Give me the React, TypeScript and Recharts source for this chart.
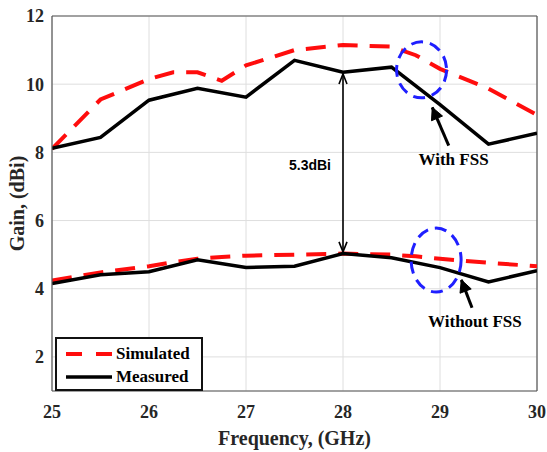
import React from 'react';
import {
  LineChart, Line, XAxis, YAxis, CartesianGrid, ReferenceLine, ReferenceDot,
} from 'recharts';

// frequency points (GHz)
const freqSim = [25, 25.5, 26, 26.25, 26.5, 26.75, 27, 27.5, 28, 28.5, 28.75, 29, 29.5, 30];
const freqMeas = [25, 25.5, 26, 26.5, 27, 27.5, 28, 28.5, 29, 29.5, 30];

// gain (dBi)
const simWithFss = [8.1, 9.55, 10.15, 10.35, 10.35, 10.1, 10.55, 11.0, 11.15, 11.1, 10.85, 10.45, 9.87, 9.1];
const measWithFss = [8.12, 8.44, 9.53, 9.88, 9.62, 10.7, 10.35, 10.5, 9.4, 8.24, 8.56];
const simWithoutFss = [4.24, 4.48, 4.66, 4.78, 4.88, 4.93, 4.97, 5.0, 5.03, 5.0, 4.95, 4.88, 4.76, 4.66];
const measWithoutFss = [4.15, 4.41, 4.5, 4.85, 4.62, 4.66, 5.03, 4.91, 4.62, 4.2, 4.53];

const xTicks = [25, 26, 27, 28, 29, 30];
const yTicks = [2, 4, 6, 8, 10, 12];

const toPoints = (xs: number[], ys: number[]) => ys.map((g, i) => ({ f: xs[i], g }));

const serif = '"Liberation Serif", "Times New Roman", serif';
const RED = '#ff0d0d';
const BLUE = '#1f1fff';

const arrowHead = (x: number, y: number, fromX: number, fromY: number, size = 11, half = 4.5) => {
  const ang = Math.atan2(y - fromY, x - fromX);
  const bx = x - size * Math.cos(ang);
  const by = y - size * Math.sin(ang);
  const px = -Math.sin(ang) * half;
  const py = Math.cos(ang) * half;
  return `M${bx + px},${by + py} L${x},${y} L${bx - px},${by - py}`;
};

const DoubleArrow = (p: any) => (
  <g>
    <line x1={p.x1} y1={p.y1} x2={p.x2} y2={p.y2} stroke="#000" strokeWidth={1.6} />
    <path d={arrowHead(p.x1, p.y1, p.x2, p.y2, 10, 4)} fill="none" stroke="#000" strokeWidth={1.6} />
    <path d={arrowHead(p.x2, p.y2, p.x1, p.y1, 10, 4)} fill="none" stroke="#000" strokeWidth={1.6} />
  </g>
);

// line from x1,y1 (tail) to x2,y2 (head)
const Pointer = (p: any) => (
  <g>
    <line x1={p.x1} y1={p.y1} x2={p.x2} y2={p.y2} stroke="#000" strokeWidth={3} />
    <path d={arrowHead(p.x2, p.y2, p.x1, p.y1, 12, 6) + ' Z'} fill="#000" stroke="#000" strokeWidth={1} />
  </g>
);

const ellipse = (rx: number, ry: number) => (p: any) => (
  <ellipse cx={p.cx} cy={p.cy} rx={rx} ry={ry} fill="none" stroke={BLUE} strokeWidth={3} strokeDasharray="12 7" />
);

const textAt = (value: string, size: number, family: string, weight: number | string) => (p: any) => (
  <text x={p.cx} y={p.cy} textAnchor="middle" dominantBaseline="central" fontSize={size}
    fontFamily={family} fontWeight={weight} fill="#000">{value}</text>
);

export default function App() {
  return (
    <div style={{ position: 'absolute', left: 0, top: 0, width: 547, height: 452, background: '#fff' }}>
      <LineChart width={547} height={452} margin={{ top: 16, right: 10, bottom: 0, left: 0 }}>
        <CartesianGrid stroke="#dedede" strokeWidth={1} />
        <XAxis
          dataKey="f" type="number" domain={[25, 30]} ticks={xTicks} allowDataOverflow
          height={61} stroke="#555" strokeWidth={1.2} tickLine={false} tickMargin={8}
          tick={{ fill: '#262626', fontSize: 18, fontFamily: serif, fontWeight: 'bold' }}
          label={{
            content: ({ viewBox }: any) => (
              <text x={viewBox.x + viewBox.width / 2} y={445} textAnchor="middle"
                fontSize={20} fontFamily={serif} fontWeight="bold" fill="#262626">Frequency, (GHz)</text>
            ),
          }}
        />
        <YAxis
          type="number" domain={[1, 12]} ticks={yTicks} allowDataOverflow
          width={52} stroke="#555" strokeWidth={1.2} tickLine={false} tickMargin={2}
          tick={{ fill: '#262626', fontSize: 18, fontFamily: serif, fontWeight: 'bold' }}
          label={{
            content: ({ viewBox }: any) => {
              const cy = viewBox.y + viewBox.height / 2;
              return (
                <text x={24} y={cy} transform={`rotate(-90 24 ${cy})`} textAnchor="middle"
                  fontSize={20} fontFamily={serif} fontWeight="bold" fill="#262626">Gain, (dBi)</text>
              );
            },
          }}
        />
        <ReferenceLine y={12} stroke="#555" strokeWidth={1.2} />
        <ReferenceLine x={30} stroke="#555" strokeWidth={1.2} />

        <Line data={toPoints(freqSim, simWithFss)} dataKey="g" type="linear" stroke={RED} strokeWidth={4}
          strokeDasharray="20 12" dot={false} isAnimationActive={false} />
        <Line data={toPoints(freqSim, simWithoutFss)} dataKey="g" type="linear" stroke={RED} strokeWidth={4}
          strokeDasharray="20 12" dot={false} isAnimationActive={false} />
        <Line data={toPoints(freqMeas, measWithFss)} dataKey="g" type="linear" stroke="#000" strokeWidth={3.5}
          dot={false} isAnimationActive={false} />
        <Line data={toPoints(freqMeas, measWithoutFss)} dataKey="g" type="linear" stroke="#000" strokeWidth={3.5}
          dot={false} isAnimationActive={false} />

        <ReferenceLine segment={[{ x: 28, y: 10.3 }, { x: 28, y: 5.08 }]} shape={DoubleArrow} />
        <ReferenceDot x={27.66} y={7.62} r={0} shape={textAt('5.3dBi', 14, '"Liberation Sans", Arial, sans-serif', 600)} />

        <ReferenceDot x={28.81} y={10.42} r={0} shape={ellipse(25, 28)} />
        <ReferenceDot x={28.96} y={4.84} r={0} shape={ellipse(25, 32)} />

        <ReferenceLine segment={[{ x: 29.09, y: 8.2 }, { x: 28.92, y: 9.32 }]} shape={Pointer} />
        <ReferenceLine segment={[{ x: 29.33, y: 3.44 }, { x: 29.22, y: 4.26 }]} shape={Pointer} />
        <ReferenceDot x={29.14} y={7.78} r={0} shape={textAt('With FSS', 17, serif, 'bold')} />
        <ReferenceDot x={29.36} y={3.03} r={0} shape={textAt('Without FSS', 17, serif, 'bold')} />
      </LineChart>

      <div style={{
        position: 'absolute', left: 55, top: 337, width: 144, height: 50, border: '2px solid #111',
        background: '#fff', fontFamily: serif, fontWeight: 'bold', fontSize: 17, color: '#000',
        boxSizing: 'content-box',
      }}>
        <div style={{ display: 'flex', alignItems: 'center', height: 23, marginTop: 3 }}>
          <svg width={50} height={10} style={{ marginLeft: 9 }}>
            <line x1={0} y1={5} x2={46} y2={5} stroke={RED} strokeWidth={4} strokeDasharray="16 14" />
          </svg>
          <span>Simulated</span>
        </div>
        <div style={{ display: 'flex', alignItems: 'center', height: 23 }}>
          <svg width={50} height={10} style={{ marginLeft: 9 }}>
            <line x1={0} y1={5} x2={46} y2={5} stroke="#000" strokeWidth={3.5} />
          </svg>
          <span>Measured</span>
        </div>
      </div>
    </div>
  );
}
